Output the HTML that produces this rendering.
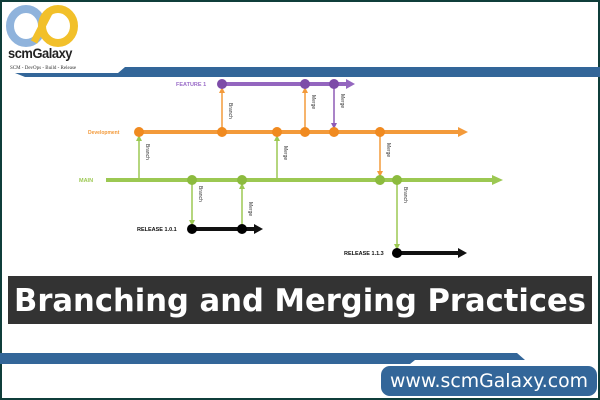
<!DOCTYPE html>
<html><head><meta charset="utf-8"><style>
html,body{margin:0;padding:0;background:#fff}
svg{display:block}
</style></head><body>
<svg width="600" height="400" viewBox="0 0 600 400" xmlns="http://www.w3.org/2000/svg" font-family="Liberation Sans, sans-serif">
<rect x="0" y="0" width="600" height="400" fill="#fff"/>
<rect x="1" y="1" width="598" height="398" fill="none" stroke="#0f3d3a" stroke-width="2"/>
<!-- logo -->
<ellipse cx="26" cy="26" rx="16" ry="17" fill="none" stroke="#8fb3dc" stroke-width="8"/>
<ellipse cx="58" cy="26" rx="16" ry="17" fill="none" stroke="#f2c02a" stroke-width="8"/>
<path d="M34 42 L50 11" stroke="#f2c02a" stroke-width="7"/>
<text x="8" y="58" font-size="14" font-weight="bold" fill="#222" letter-spacing="-0.5" textLength="64" lengthAdjust="spacingAndGlyphs">scmGalaxy</text>
<text x="10" y="69" font-size="5" fill="#333" font-family="Liberation Serif, serif">SCM - DevOps - Build - Release</text>
<!-- top band -->
<polygon points="15,73 118,73 125,67 600,67 600,77 25,77" fill="#336699"/>
<g stroke-width="4" fill="none">
<line x1="222" y1="84" x2="350" y2="84" stroke="#9466bf"/>
<polygon points="346,79 355,84 346,89" fill="#9466bf" stroke="none"/>
<line x1="139" y1="132" x2="462" y2="132" stroke="#f39a3a"/>
<polygon points="458,127 468,132 458,137" fill="#f39a3a" stroke="none"/>
<line x1="106" y1="180" x2="497" y2="180" stroke="#9cc852"/>
<polygon points="492,175 503,180 492,185" fill="#9cc852" stroke="none"/>
<line x1="192" y1="229" x2="257" y2="229" stroke="#111"/>
<polygon points="254,224 263,229 254,234" fill="#111" stroke="none"/>
<line x1="397" y1="253" x2="461" y2="253" stroke="#111"/>
<polygon points="458,248 467,253 458,258" fill="#111" stroke="none"/>
</g>
<g stroke-width="1.5">
<line x1="139" y1="178" x2="139" y2="138" stroke="#9cc852"/><polygon points="136,141 139,135 142,141" fill="#9cc852"/>
<line x1="222" y1="130" x2="222" y2="90" stroke="#f39a3a"/><polygon points="219,93 222,87 225,93" fill="#f39a3a"/>
<line x1="305" y1="130" x2="305" y2="90" stroke="#f39a3a"/><polygon points="302,93 305,87 308,93" fill="#f39a3a"/>
<line x1="334" y1="86" x2="334" y2="126" stroke="#8e5bb5"/><polygon points="331,123 334,129 337,123" fill="#8e5bb5"/>
<line x1="277" y1="178" x2="277" y2="138" stroke="#9cc852"/><polygon points="274,141 277,135 280,141" fill="#9cc852"/>
<line x1="380" y1="134" x2="380" y2="174" stroke="#f39a3a"/><polygon points="377,171 380,177 383,171" fill="#f39a3a"/>
<line x1="192" y1="182" x2="192" y2="223" stroke="#9cc852"/><polygon points="189,220 192,226 195,220" fill="#9cc852"/>
<line x1="242" y1="227" x2="242" y2="186" stroke="#9cc852"/><polygon points="239,189 242,183 245,189" fill="#9cc852"/>
<line x1="397" y1="182" x2="397" y2="247" stroke="#9cc852"/><polygon points="394,244 397,250 400,244" fill="#9cc852"/>
</g>
<g>
<circle cx="222" cy="84" r="5" fill="#7d4ca8"/><circle cx="305" cy="84" r="5" fill="#7d4ca8"/><circle cx="334" cy="84" r="5" fill="#7d4ca8"/>
<circle cx="139" cy="132" r="5" fill="#f08a20"/><circle cx="222" cy="132" r="5" fill="#f08a20"/><circle cx="277" cy="132" r="5" fill="#f08a20"/><circle cx="305" cy="132" r="5" fill="#f08a20"/><circle cx="334" cy="132" r="5" fill="#f08a20"/><circle cx="380" cy="132" r="5" fill="#f08a20"/>
<circle cx="192" cy="180" r="5" fill="#8cbb3e"/><circle cx="242" cy="180" r="5" fill="#8cbb3e"/><circle cx="380" cy="180" r="5" fill="#8cbb3e"/><circle cx="397" cy="180" r="5" fill="#8cbb3e"/>
<circle cx="192" cy="229" r="5" fill="#000"/><circle cx="242" cy="229" r="5" fill="#000"/><circle cx="397" cy="253" r="5" fill="#000"/>
</g>
<g font-size="5.5" font-weight="bold">
<text x="176" y="86" fill="#9a6cc8">FEATURE 1</text>
<text x="88" y="134" fill="#f39a3a" font-size="5">Development</text>
<text x="79" y="182" fill="#9cc852">MAIN</text>
<text x="137" y="231" fill="#111">RELEASE 1.0.1</text>
<text x="344" y="255" fill="#111">RELEASE 1.1.3</text>
</g>
<g font-size="5" fill="#333">
<text transform="translate(229,103) rotate(90)">Branch</text>
<text transform="translate(312,95) rotate(90)">Merge</text>
<text transform="translate(341,94) rotate(90)">Merge</text>
<text transform="translate(146,144) rotate(90)">Branch</text>
<text transform="translate(284,146) rotate(90)">Merge</text>
<text transform="translate(387,143) rotate(90)">Merge</text>
<text transform="translate(199,186) rotate(90)">Branch</text>
<text transform="translate(249,202) rotate(90)">Merge</text>
<text transform="translate(404,187) rotate(90)">Branch</text>
</g>
<rect x="8" y="276" width="584" height="48" fill="#333"/>
<text x="300" y="311" font-size="31" font-weight="bold" fill="#fff" text-anchor="middle" font-family="DejaVu Sans, sans-serif" textLength="572" lengthAdjust="spacingAndGlyphs">Branching and Merging Practices</text>
<polygon points="0,353 517,353 525,360 415,360 410,364 0,364" fill="#336699"/>
<rect x="381" y="366" width="216" height="30" rx="9" fill="#336699"/>
<text x="489" y="387" font-size="19" fill="#fff" text-anchor="middle" font-family="DejaVu Sans, sans-serif" textLength="198" lengthAdjust="spacingAndGlyphs">www.scmGalaxy.com</text>
</svg>
</body></html>
